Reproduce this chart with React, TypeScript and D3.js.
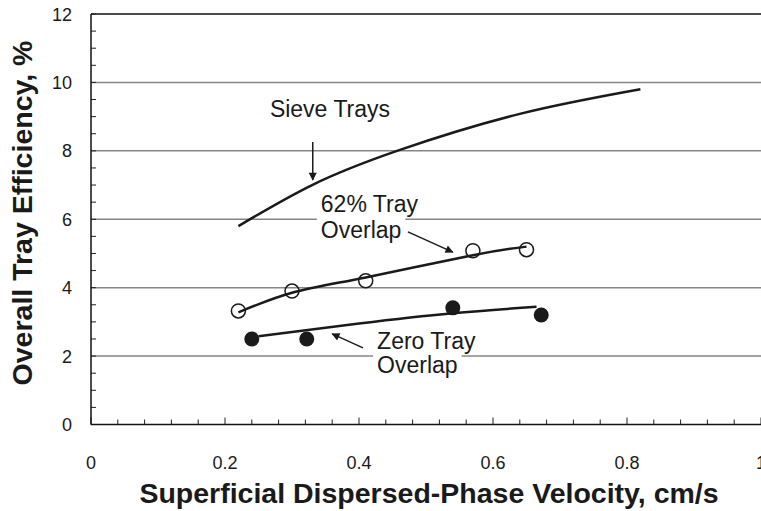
import { useRef, useEffect } from 'react';
import * as d3 from 'd3';

// curve values (x: cm/s, y: %)
const sieveX = [0.22, 0.33, 0.46, 0.64, 0.82];
const sieveY = [5.8, 7.0, 8.02, 9.08, 9.8];

const overlapFitX = [0.22, 0.3, 0.41, 0.57, 0.65];
const overlapFitY = [3.28, 3.85, 4.3, 4.95, 5.2];
const overlapPtsX = [0.22, 0.3, 0.41, 0.57, 0.65];
const overlapPtsY = [3.32, 3.9, 4.2, 5.08, 5.11];

const zeroFitX = [0.25, 0.4, 0.54, 0.665];
const zeroFitY = [2.58, 2.95, 3.25, 3.44];
const zeroPtsX = [0.24, 0.322, 0.54, 0.672];
const zeroPtsY = [2.5, 2.5, 3.41, 3.2];

const xTicks = [0, 0.2, 0.4, 0.6, 0.8, 1];
const yTicks = [0, 2, 4, 6, 8, 10, 12];

const xTitle = 'Superficial Dispersed-Phase Velocity, cm/s';
const yTitle = 'Overall Tray Efficiency, %';

export default function App() {
  const svgRef = useRef<SVGSVGElement>(null);

  useEffect(() => {
    if (!svgRef.current) return;
    const svg = d3.select(svgRef.current);
    svg.selectAll('*').remove();

    const width = 761;
    const height = 511;
    const x = d3.scaleLinear().domain([0, 1]).range([91, 761]);
    const y = d3.scaleLinear().domain([0, 12]).range([424.5, 14]);
    const font = 'Arial, "Liberation Sans", sans-serif';

    svg.append('rect').attr('width', width).attr('height', height).attr('fill', '#fff');

    // gridlines
    svg.append('g')
      .selectAll('line')
      .data(yTicks.filter((d) => d > 0 && d < 12))
      .join('line')
      .attr('x1', x(0))
      .attr('x2', x(1))
      .attr('y1', (d) => y(d))
      .attr('y2', (d) => y(d))
      .attr('stroke', '#868686')
      .attr('stroke-width', 1.5);

    // top border
    svg.append('line')
      .attr('x1', x(0)).attr('x2', x(1))
      .attr('y1', y(12)).attr('y2', y(12))
      .attr('stroke', '#111').attr('stroke-width', 1.5);

    // minor ticks, pointing inward
    const yMinor = d3.range(0, 12.01, 0.5);
    svg.append('g')
      .selectAll('line')
      .data(yMinor)
      .join('line')
      .attr('x1', x(0))
      .attr('x2', x(0) + 5)
      .attr('y1', (d) => y(d))
      .attr('y2', (d) => y(d))
      .attr('stroke', '#222')
      .attr('stroke-width', 1);

    const xMinor = d3.range(0, 1.001, 0.04);
    svg.append('g')
      .selectAll('line')
      .data(xMinor)
      .join('line')
      .attr('x1', (d) => x(d))
      .attr('x2', (d) => x(d))
      .attr('y1', y(0))
      .attr('y2', (d) => y(0) - (Math.abs(d * 5 - Math.round(d * 5)) < 1e-6 ? 7 : 5))
      .attr('stroke', '#222')
      .attr('stroke-width', 1);

    // axes
    svg.append('line')
      .attr('x1', x(0)).attr('x2', x(0))
      .attr('y1', y(0)).attr('y2', y(12))
      .attr('stroke', '#111').attr('stroke-width', 1.5);
    svg.append('line')
      .attr('x1', x(0)).attr('x2', x(1))
      .attr('y1', y(0)).attr('y2', y(0))
      .attr('stroke', '#111').attr('stroke-width', 1.5);

    svg.append('g')
      .selectAll('text')
      .data(yTicks)
      .join('text')
      .attr('x', 72)
      .attr('y', (d) => y(d) + 6.5)
      .attr('text-anchor', 'end')
      .attr('font-family', font)
      .attr('font-size', 18)
      .attr('fill', '#1a1a1a')
      .text((d) => d);

    svg.append('g')
      .selectAll('text')
      .data(xTicks)
      .join('text')
      .attr('x', (d) => x(d))
      .attr('y', 469)
      .attr('text-anchor', 'middle')
      .attr('font-family', font)
      .attr('font-size', 18)
      .attr('fill', '#1a1a1a')
      .text((d) => d);

    // titles
    svg.append('text')
      .attr('x', 429)
      .attr('y', 503)
      .attr('text-anchor', 'middle')
      .attr('font-family', font)
      .attr('font-weight', 'bold')
      .attr('font-size', 28.5)
      .attr('fill', '#1a1a1a')
      .text(xTitle);

    svg.append('text')
      .attr('transform', 'translate(32,213) rotate(-90)')
      .attr('text-anchor', 'middle')
      .attr('font-family', font)
      .attr('font-weight', 'bold')
      .attr('font-size', 28.5)
      .attr('fill', '#1a1a1a')
      .text(yTitle);

    // label blocks with white backing
    const label = (lines: string[], lx: number, ly: number[]) => {
      const g = svg.append('g');
      lines.forEach((t, i) => {
        const txt = g.append('text')
          .attr('x', x(lx))
          .attr('y', y(ly[i]))
          .attr('font-family', font)
          .attr('font-size', 23)
          .attr('fill', '#1a1a1a')
          .text(t);
        const bb = (txt.node() as SVGTextElement).getBBox();
        g.insert('rect', 'text')
          .attr('x', bb.x - 4)
          .attr('y', bb.y)
          .attr('width', bb.width + 8)
          .attr('height', bb.height)
          .attr('fill', '#fff');
      });
    };

    // curves
    const line = d3.line<[number, number]>()
      .x((d) => x(d[0]))
      .y((d) => y(d[1]))
      .curve(d3.curveNatural);

    const drawCurve = (xs: number[], ys: number[]) =>
      svg.append('path')
        .attr('d', line(xs.map((v, i) => [v, ys[i]] as [number, number])))
        .attr('fill', 'none')
        .attr('stroke', '#1a1a1a')
        .attr('stroke-width', 2.5);

    label(['Sieve Trays'], 0.267, [9.0]);
    label(['62% Tray', 'Overlap'], 0.343, [6.21, 5.45]);
    label(['Zero Tray', 'Overlap'], 0.427, [2.2, 1.5]);

    drawCurve(sieveX, sieveY);
    drawCurve(overlapFitX, overlapFitY);
    drawCurve(zeroFitX, zeroFitY);

    svg.append('g')
      .selectAll('circle')
      .data(overlapPtsX)
      .join('circle')
      .attr('cx', (d) => x(d))
      .attr('cy', (_, i) => y(overlapPtsY[i]))
      .attr('r', 7)
      .attr('fill', 'none')
      .attr('stroke', '#1a1a1a')
      .attr('stroke-width', 1.5);

    svg.append('g')
      .selectAll('circle')
      .data(zeroPtsX)
      .join('circle')
      .attr('cx', (d) => x(d))
      .attr('cy', (_, i) => y(zeroPtsY[i]))
      .attr('r', 7.5)
      .attr('fill', '#1a1a1a');

    // arrows
    svg.append('defs')
      .append('marker')
      .attr('id', 'head')
      .attr('viewBox', '0 0 10 10')
      .attr('refX', 9)
      .attr('refY', 5)
      .attr('markerWidth', 10)
      .attr('markerHeight', 8)
      .attr('markerUnits', 'userSpaceOnUse')
      .attr('orient', 'auto')
      .append('path')
      .attr('d', 'M0,0 L10,5 L0,10 z')
      .attr('fill', '#1a1a1a');

    const arrows: [number, number, number, number][] = [
      [0.331, 8.26, 0.331, 7.15],
      [0.473, 5.63, 0.54, 5.04],
      [0.406, 2.24, 0.36, 2.65],
    ];
    svg.append('g')
      .selectAll('line')
      .data(arrows)
      .join('line')
      .attr('x1', (d) => x(d[0]))
      .attr('y1', (d) => y(d[1]))
      .attr('x2', (d) => x(d[2]))
      .attr('y2', (d) => y(d[3]))
      .attr('stroke', '#1a1a1a')
      .attr('stroke-width', 1.5)
      .attr('marker-end', 'url(#head)');
  }, []);

  return (
    <svg
      ref={svgRef}
      width={761}
      height={511}
      style={{ position: 'absolute', left: 0, top: 0, display: 'block' }}
    />
  );
}
